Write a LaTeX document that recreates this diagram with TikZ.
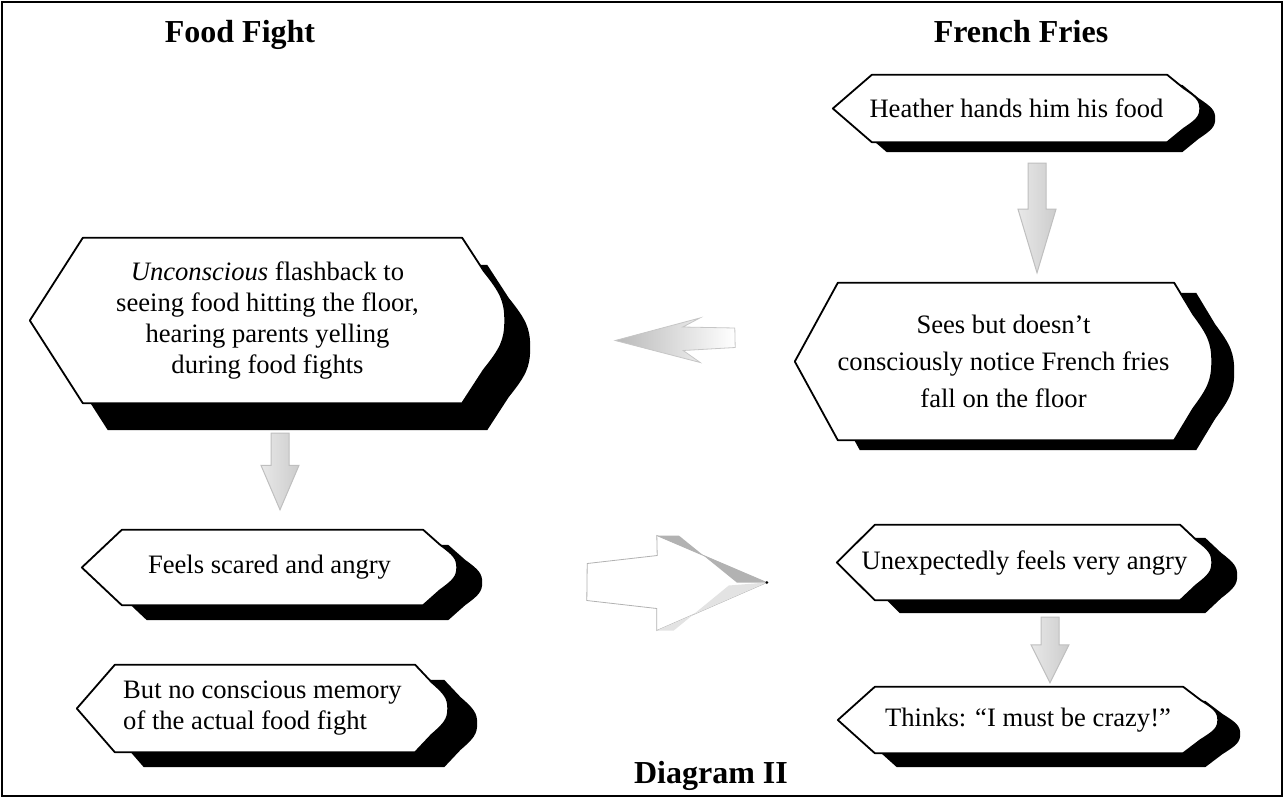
\documentclass[tikz,border=0pt]{standalone}
\usepackage{fontspec}
\setmainfont{Liberation Serif}
\usetikzlibrary{calc,backgrounds}

\newcommand{\bodysize}{\fontsize{26.6}{31}\selectfont}
\newcommand{\titlesize}{\fontsize{32}{38}\selectfont\bfseries}

% outline of a display box round node #1, shifted by (#4,#5)
\newcommand{\dispath}[5]{let \p1=($(#1.north west)+(#4,#5)$), \p2=($(#1.south east)+(#4,#5)$) in
 (\x1,{(\y1+\y2)/2}) -- ({\x1+#2pt},\y1) -- ({\x2-#3pt},\y1) -- ({\x2-0.5*#3pt},{\y1-0.2*(\y1-\y2)})
 .. controls ({\x2-0.1*#3pt},{\y1-0.33*(\y1-\y2)}) and (\x2,{(\y1+\y2)/2+0.12*(\y1-\y2)}) .. (\x2,{(\y1+\y2)/2})
 .. controls (\x2,{(\y1+\y2)/2-0.12*(\y1-\y2)}) and ({\x2-0.1*#3pt},{\y2+0.33*(\y1-\y2)}) .. ({\x2-0.5*#3pt},{\y2+0.2*(\y1-\y2)})
 -- ({\x2-#3pt},\y2) -- ({\x1+#2pt},\y2) -- cycle}

% hollow down arrow from node #1 to node #2 at x=#3
\newcommand{\downblock}[5]{\path[blockarrow] let \p1=(#1.south), \p2=(#2.north),
 \p3=({#3pt},{\y1-#4pt}), \p4=({#3pt},{\y2+#5pt}), \p5=($(\p3)!0.42!(\p4)$) in
 ($(\p3)+(-9,0)$) -- ($(\p3)+(9,0)$) -- ($(\p5)+(9,0)$) -- ($(\p5)+(19,0)$) -- (\p4)
 -- ($(\p5)+(-19,0)$) -- ($(\p5)+(-9,0)$) -- cycle;}

\begin{document}
\begin{tikzpicture}[x=1pt, y=-1pt]
\tikzset{
  dbox/.style={inner sep=0pt, align=center, font=\bodysize},
  ttl/.style={inner sep=0pt, font=\titlesize},
  boxline/.style={draw=black, line width=1.8pt, fill=white, line join=round},
  blockarrow/.style={draw=gray!50, line width=1pt, left color=gray!18, middle color=white, right color=gray!40}
}
\useasboundingbox (0,0) rectangle (1284,798);
\draw[line width=1.6pt] (2,2) rectangle (1282,796);

\node[ttl, anchor=base] (foodfight) at (240,42) {Food Fight};
\node[ttl, anchor=base] (frenchfries) at (1021,42) {French Fries};
\node[ttl, anchor=base] (diagram) at (711,783) {Diagram II};

\node[dbox, minimum width=367, minimum height=67] (heather) at (1016.5,108.5) {Heather hands him his food};
\node[dbox, minimum width=417, minimum height=157, font={\fontsize{26.6}{37}\selectfont}] (sees) at (1003.5,361.5) {Sees but doesn't\\consciously notice French fries\\fall on the floor};
\node[dbox, minimum width=475, minimum height=165] (unconscious) at (267.5,320.5) {\textit{Unconscious} flashback to\\seeing food hitting the floor,\\hearing parents yelling\\during food fights};
\node[dbox, minimum width=375, minimum height=75] (feels) at (269.5,567.5) {Feels scared and angry};
\node[dbox, minimum width=375, minimum height=75] (unexp) at (1024.5,562.5) {Unexpectedly feels very angry};
\node[dbox, minimum width=380, minimum height=66] (thinks) at (1028,720) {Thinks: ``I must be crazy!''};
\node[dbox, minimum width=371, minimum height=87, align=left] (butno) at (262.5,708.5) {But no conscious memory\\of the actual food fight};

\begin{pgfonlayer}{background}
\foreach \nm/\ptl/\ptr/\sx/\sy in {heather/39/33/15/10, sees/43/38/22/10, unconscious/53/43/25/27,
  feels/40/34/25/15, unexp/38/32/25/13, thinks/37/35/22/14, butno/38/33/29/15}{
  \fill[black] \dispath{\nm}{\ptl}{\ptr}{\sx}{\sy};
  \path[boxline] \dispath{\nm}{\ptl}{\ptr}{0}{0};
}
\end{pgfonlayer}

\downblock{heather}{sees}{1037}{21}{10}
\downblock{unconscious}{feels}{280}{30}{20}
\downblock{unexp}{thinks}{1050}{17}{4}

\coordinate (sl-tail) at ($(sees.west)+(-60,-22)$);
\coordinate (sl-tip) at ($(unconscious.east)+(110,20)$);
\path[draw=gray!45, line width=0.8pt, left color=gray!55, right color=white]
  (sl-tail) ++(0,-11.5) -- ++(-52,-1) -- ++(17,-9) -- (sl-tip) -- ($(sl-tip)+(85,22)$) -- ++(-17,-12) -- ++(52,-3) -- cycle;

\coordinate (fr-tail) at ($(feels.east)+(130,15)$);
\coordinate (fr-tip) at ($(unexp.west)+(-70,20)$);
\path[draw=gray!60, line width=0.8pt, fill=white]
  (fr-tail) ++(0,-19) -- ++(70,-8) -- ($(fr-tip)+(-110,-47)$) -- (fr-tip) -- ($(fr-tip)+(-110,48)$) -- ++(0,-22) -- ++(-70,-8) -- cycle;
\fill[gray!60] (fr-tip) -- ($(fr-tip)+(-110,-47)$) -- ($(fr-tip)+(-88,-47)$) -- ($(fr-tip)+(-30,0)$) -- cycle;
\fill[gray!22] (fr-tip) -- ($(fr-tip)+(-110,48)$) -- ($(fr-tip)+(-93,48)$) -- ($(fr-tip)+(-38,3)$) -- cycle;
\fill[black] (fr-tip) circle (1.5);
\end{tikzpicture}
\end{document}
